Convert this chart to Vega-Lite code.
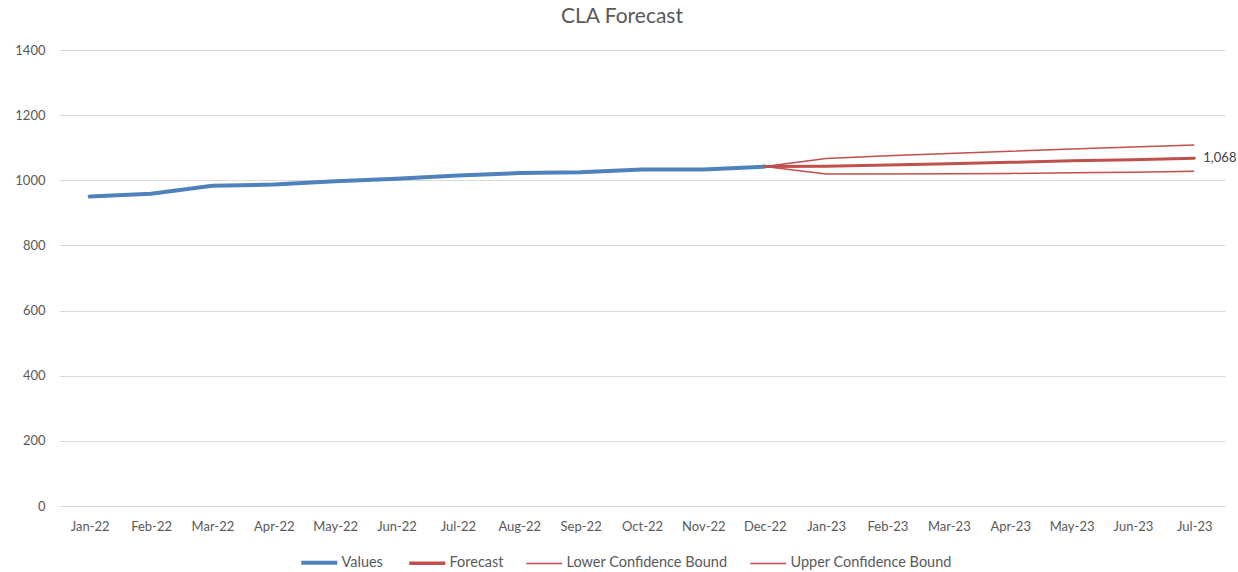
{
  "$schema": "https://vega.github.io/schema/vega-lite/v6.json",
  "autosize": {"type": "none"},
  "width": 1166,
  "height": 456,
  "padding": {"left": 59, "top": 50, "right": 13, "bottom": 66},
  "background": "white",
  "title": {"text": "CLA Forecast", "fontSize": 21, "font": "Lato", "fontWeight": "normal", "color": "#595959", "anchor": "middle", "dx": -20, "offset": 17},
  "config": {"view": {"stroke": null}, "font": "Lato"},
  "data": {"values": [
    {"month": "Jan-22", "series": "Values", "value": 950},
    {"month": "Feb-22", "series": "Values", "value": 959},
    {"month": "Mar-22", "series": "Values", "value": 983},
    {"month": "Apr-22", "series": "Values", "value": 987},
    {"month": "May-22", "series": "Values", "value": 997},
    {"month": "Jun-22", "series": "Values", "value": 1005},
    {"month": "Jul-22", "series": "Values", "value": 1015},
    {"month": "Aug-22", "series": "Values", "value": 1022},
    {"month": "Sep-22", "series": "Values", "value": 1025},
    {"month": "Oct-22", "series": "Values", "value": 1033},
    {"month": "Nov-22", "series": "Values", "value": 1033},
    {"month": "Dec-22", "series": "Values", "value": 1042},
    {"month": "Dec-22", "series": "Forecast", "value": 1042},
    {"month": "Jan-23", "series": "Forecast", "value": 1043},
    {"month": "Feb-23", "series": "Forecast", "value": 1047},
    {"month": "Mar-23", "series": "Forecast", "value": 1051},
    {"month": "Apr-23", "series": "Forecast", "value": 1055},
    {"month": "May-23", "series": "Forecast", "value": 1060},
    {"month": "Jun-23", "series": "Forecast", "value": 1063},
    {"month": "Jul-23", "series": "Forecast", "value": 1068},
    {"month": "Dec-22", "series": "Lower Confidence Bound", "value": 1042},
    {"month": "Jan-23", "series": "Lower Confidence Bound", "value": 1019},
    {"month": "Feb-23", "series": "Lower Confidence Bound", "value": 1019},
    {"month": "Mar-23", "series": "Lower Confidence Bound", "value": 1020},
    {"month": "Apr-23", "series": "Lower Confidence Bound", "value": 1021},
    {"month": "May-23", "series": "Lower Confidence Bound", "value": 1023},
    {"month": "Jun-23", "series": "Lower Confidence Bound", "value": 1025},
    {"month": "Jul-23", "series": "Lower Confidence Bound", "value": 1028},
    {"month": "Dec-22", "series": "Upper Confidence Bound", "value": 1042},
    {"month": "Jan-23", "series": "Upper Confidence Bound", "value": 1067},
    {"month": "Feb-23", "series": "Upper Confidence Bound", "value": 1075},
    {"month": "Mar-23", "series": "Upper Confidence Bound", "value": 1082},
    {"month": "Apr-23", "series": "Upper Confidence Bound", "value": 1089},
    {"month": "May-23", "series": "Upper Confidence Bound", "value": 1096},
    {"month": "Jun-23", "series": "Upper Confidence Bound", "value": 1102},
    {"month": "Jul-23", "series": "Upper Confidence Bound", "value": 1108}
  ]},
  "encoding": {
    "x": {
      "field": "month", "type": "ordinal",
      "sort": ["Jan-22","Feb-22","Mar-22","Apr-22","May-22","Jun-22","Jul-22","Aug-22","Sep-22","Oct-22","Nov-22","Dec-22","Jan-23","Feb-23","Mar-23","Apr-23","May-23","Jun-23","Jul-23"],
      "scale": {"type": "point", "padding": 0.5},
      "axis": {"title": null, "labelAngle": 0, "ticks": false, "domain": true, "domainColor": "#d9d9d9", "labelPadding": 14, "labelFontSize": 13, "labelColor": "#595959", "labelFont": "Lato"}
    },
    "y": {
      "field": "value", "type": "quantitative",
      "scale": {"domain": [0, 1400], "nice": false},
      "axis": {"title": null, "values": [0,200,400,600,800,1000,1200,1400], "format": "d", "ticks": false, "domain": false, "gridColor": "#d9d9d9", "labelPadding": 14, "labelFontSize": 13, "labelColor": "#595959", "labelFont": "Lato"}
    },
    "color": {
      "field": "series", "type": "nominal",
      "scale": {"domain": ["Values", "Forecast", "Lower Confidence Bound", "Upper Confidence Bound"], "range": ["#4f81bd", "#c0504d", "#c0504d", "#c0504d"]},
      "legend": {
        "title": null, "orient": "none", "direction": "horizontal", "legendX": 253, "legendY": 505,
        "symbolType": "stroke", "symbolSize": 1296, "labelFontSize": 14.5, "labelColor": "#595959", "labelFont": "Lato", "labelLimit": 300,
        "columnPadding": 19, "labelOffset": 15,
        "encode": {"symbols": {"update": {"strokeWidth": {"signal": "datum.value == 'Values' ? 4 : datum.value == 'Forecast' ? 3.5 : 1.5"}}}}
      }
    }
  },
  "layer": [
    {
      "transform": [{"filter": "datum.series == 'Lower Confidence Bound' || datum.series == 'Upper Confidence Bound'"}],
      "mark": {"type": "line", "strokeWidth": 1.5}
    },
    {
      "transform": [{"filter": "datum.series == 'Values'"}],
      "mark": {"type": "line", "strokeWidth": 4, "strokeCap": "round"}
    },
    {
      "transform": [{"filter": "datum.series == 'Forecast'"}],
      "mark": {"type": "line", "strokeWidth": 3, "strokeCap": "round"}
    },
    {
      "transform": [{"filter": "datum.series == 'Forecast' && datum.month == 'Jul-23'"}],
      "mark": {"type": "text", "align": "left", "dx": 9, "fontSize": 13, "color": "#404040", "font": "Lato"},
      "encoding": {"text": {"field": "value", "type": "quantitative", "format": ","}, "color": {"value": "#404040"}}
    }
  ]
}
